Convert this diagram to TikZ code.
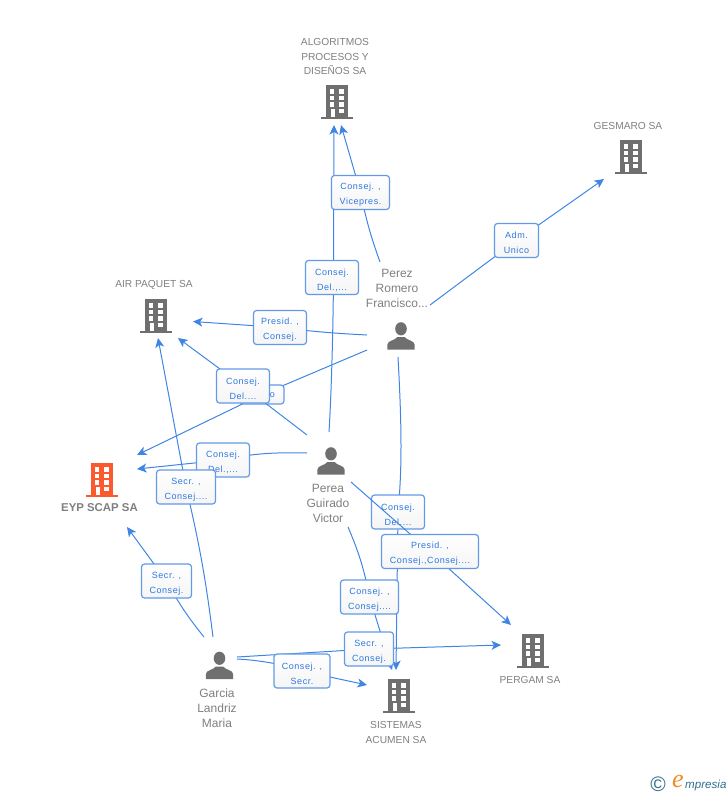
\documentclass[tikz,border=0pt]{standalone}
\usepackage{fontspec}
\setmainfont{Liberation Sans}
\newfontfamily\lblfont[LetterSpace=6]{Liberation Sans}
\newfontfamily\logofont{Liberation Serif}
\usetikzlibrary{arrows.meta}
\definecolor{iconGray}{HTML}{6F6F6F}
\definecolor{txtGray}{HTML}{7F7F7F}
\definecolor{orangeIcon}{HTML}{FB5A2E}
\definecolor{linkBlue}{HTML}{3F86E4}
\definecolor{boxBlue}{HTML}{629AE6}
\definecolor{lblBlue}{HTML}{2F78E0}
\definecolor{logoTeal}{HTML}{2F6F8C}
\definecolor{logoOrange}{HTML}{F08A24}
\tikzset{
  x=1pt,y=-1pt,
  link/.style={draw=linkBlue,line width=1pt},
  linkarrow/.style={link,-{Stealth[length=9.5pt,width=9pt,inset=2.5pt]}},
  lbl/.style={draw=boxBlue,line width=1.2pt,rounded corners=3pt,top color=white,bottom color=white!96!black,inner sep=0pt,align=center,text=lblBlue,text height=26.5pt,font=\lblfont\fontsize{9}{15}\selectfont},
  company/.style={text=txtGray,align=center,inner sep=0pt,font=\fontsize{10.2}{14.5}\selectfont},
  person/.style={text=txtGray,align=center,inner sep=0pt,font=\fontsize{12}{15}\selectfont},
  iconbox/.style={inner sep=0pt,minimum width=32pt,minimum height=34pt},
  pics/building/.style={code={
    \fill[#1] (-11,-17) rectangle (11,15);
    \fill[#1] (-16,15) rectangle (16,17.2);
    \foreach \r in {-12.7,-6,0.4}{
      \fill[white] (-7.3,\r) rectangle (-2.7,\r+4.3);
      \fill[white] (2.3,\r) rectangle (7,\r+4.3);
    }
    \fill[white] (-6.5,6.7) rectangle (-2.5,15);
    \fill[white] (2.3,6.7) rectangle (7,11.2);
  }},
  pics/human/.style={code={
    \fill[iconGray] (0,-7.2) ellipse [x radius=5.8,y radius=6.6];
    \fill[iconGray] (-13.6,13.5) -- (-13.6,8.5) .. controls (-13.4,4.5) and (-6,4.5) .. (-3.6,1)
      -- (3.6,1) .. controls (6,4.5) and (13.4,4.5) .. (13.6,8.5) -- (13.6,13.5) -- cycle;
  }}
}
\begin{document}
\begin{tikzpicture}
\useasboundingbox (0,0) rectangle (728,795);
% icons
\node[iconbox] (alg) at (337,102) {}; \pic at (alg.center) {building=iconGray};
\node[iconbox] (ges) at (631,157) {}; \pic at (ges.center) {building=iconGray};
\node[iconbox] (air) at (156,316) {}; \pic at (air.center) {building=iconGray};
\node[iconbox] (eyp) at (102,480) {}; \pic at (eyp.center) {building=orangeIcon};
\node[iconbox] (per) at (533,651) {}; \pic at (per.center) {building=iconGray};
\node[iconbox] (sis) at (399,696) {}; \pic at (sis.center) {building=iconGray};
\node[iconbox] (perez) at (401,336) {}; \pic at (perez.center) {human};
\node[iconbox] (perea) at (331,461) {}; \pic at (perea.center) {human};
\node[iconbox] (garcia) at (219.5,665.5) {}; \pic at (garcia.center) {human};
% texts
\node[company] (talg) at (335,56.5) {ALGORITMOS\\PROCESOS Y\\DISEÑOS SA};
\node[company] (tges) at (628,126) {GESMARO SA};
\node[company] (tair) at (154,285) {AIR PAQUET SA};
\node[company] (tper) at (530,680) {PERGAM SA};
\node[company] (tsis) at (396,732.5) {SISTEMAS\\ACUMEN SA};
\node[text=txtGray,inner sep=0pt,font=\bfseries\fontsize{11.4}{14}\selectfont] (teyp) at (99.5,508) {EYP SCAP SA};
\node[person] (tperez) at (397,288) {Perez\\Romero\\Francisco...};
\node[person] (tperea) at (328,503) {Perea\\Guirado\\Victor};
\node[person] (tgarcia) at (217,708) {Garcia\\Landriz\\Maria};
% connector ends
\coordinate (a1) at (380,262); \coordinate (b1) at (341,125); \coordinate (c1) at (360.5,192.5);
\coordinate (a2) at (329,432); \coordinate (b2) at (334,125); \coordinate (c2) at (332,277.5);
\coordinate (m2) at (333.5,277.5);
\coordinate (a3) at (430,305); \coordinate (b3) at (604,179); \coordinate (c3) at (516.5,240.5);
\coordinate (a4) at (367,335); \coordinate (b4) at (193,321.5); \coordinate (c4) at (280,327.5);
\coordinate (a5) at (307,435); \coordinate (b5) at (178,338); \coordinate (c5) at (243,386);
\coordinate (a6) at (367,350); \coordinate (b6) at (137,455); \coordinate (c6) at (262,394.5);
\coordinate (a7) at (307,453); \coordinate (b7) at (137,469); \coordinate (c7) at (223,460);
\coordinate (a8) at (204,637); \coordinate (b8) at (127,527); \coordinate (c8) at (166.5,581);
\coordinate (a9) at (213,637); \coordinate (b9) at (158,338); \coordinate (c9) at (186,487);
\coordinate (a10) at (398,357); \coordinate (b10) at (396,670); \coordinate (c10) at (398,512);
\coordinate (a11) at (351,482); \coordinate (b11) at (511,625); \coordinate (c11) at (430,551.5);
\coordinate (a12) at (348,527); \coordinate (b12) at (392,670); \coordinate (c12) at (369.5,597);
\coordinate (a13) at (237,657); \coordinate (b13) at (501,645); \coordinate (c13) at (369,649);
\coordinate (a14) at (237,659); \coordinate (b14) at (367,685); \coordinate (c14) at (302,671);
% connectors and their labels, in drawing order
\draw[link] (a2) .. controls (331,400) and (333,340) .. (m2); \draw[linkarrow] (m2) -- (b2);
\draw[link] (a1) to[bend left=4] (c1); \draw[linkarrow] (c1) -- (b1);
\node[lbl,minimum width=58pt,minimum height=34pt] (l1) at (c1) {Consej. ,\\Vicepres.};
\node[lbl,minimum width=53pt,minimum height=34pt] (l2) at (c2) {Consej.\\Del.,...};
\draw[link] (a3) -- (c3); \draw[linkarrow] (c3) -- (b3);
\node[lbl,minimum width=44pt,minimum height=34pt] (l3) at (c3) {Adm.\\Unico};
\draw[link] (a4) to[bend left=2] (c4); \draw[linkarrow] (c4) -- (b4);
\node[lbl,minimum width=53pt,minimum height=34pt] (l4) at (c4) {Presid. ,\\Consej.};
\draw[link] (a6) -- (c6); \draw[linkarrow] (c6) -- (b6);
\node[lbl,minimum width=44pt,minimum height=19pt,text width=26pt,align=right,text height=6.5pt] (l6) at (c6) {o};
\draw[link] (a5) -- (c5); \draw[linkarrow] (c5) -- (b5);
\node[lbl,minimum width=53pt,minimum height=34pt] (l5) at (c5) {Consej.\\Del....};
\draw[link] (a7) .. controls (280,452.5) and (255,452.5) .. (c7); \draw[linkarrow] (c7) -- (b7);
\node[lbl,minimum width=53pt,minimum height=34pt] (l7) at (c7) {Consej.\\Del.,...};
\draw[link] (a9) to[bend right=3] (c9); \draw[linkarrow] (c9) -- (b9);
\node[lbl,minimum width=59pt,minimum height=34pt] (l9) at (c9) {Secr. ,\\Consej....};
\draw[link] (a8) to[bend left=5] (c8); \draw[linkarrow] (c8) -- (b8);
\node[lbl,minimum width=50pt,minimum height=34pt] (l8) at (c8) {Secr. ,\\Consej.};
\draw[link] (a10) .. controls (402,430) and (402,470) .. (c10); \draw[linkarrow] (c10) -- (b10);
\node[lbl,minimum width=53pt,minimum height=34pt] (l10) at (c10) {Consej.\\Del....};
\draw[link] (a11) -- (c11); \draw[linkarrow] (c11) -- (b11);
\node[lbl,minimum width=97pt,minimum height=34pt] (l11) at (c11) {Presid. ,\\Consej.,Consej....};
\draw[link] (a12) to[bend left=6] (c12); \draw[linkarrow] (c12) -- (b12);
\node[lbl,minimum width=58pt,minimum height=34pt] (l12) at (c12) {Consej. ,\\Consej....};
\draw[link] (a13) -- (c13); \draw[linkarrow] (c13) -- (b13);
\node[lbl,minimum width=49pt,minimum height=34pt] (l13) at (c13) {Secr. ,\\Consej.};
\draw[link] (a14) .. controls (255,660) and (280,663) .. (c14); \draw[linkarrow] (c14) -- (b14);
\node[lbl,minimum width=56pt,minimum height=34pt] (l14) at (c14) {Consej. ,\\Secr.};
% logo
\node[text=logoTeal,inner sep=0pt,font=\fontsize{21}{21}\selectfont] (copy) at (658,784.5) {©};
\node[text=logoOrange,inner sep=0pt,font=\logofont\itshape\fontsize{26}{26}\selectfont] (logoe) at (678,781.5) {e};
\node[text=logoTeal,inner sep=0pt,anchor=west,font=\itshape\fontsize{11.6}{12}\selectfont] (logot) at (685,785) {mpresia};
\end{tikzpicture}
\end{document}
